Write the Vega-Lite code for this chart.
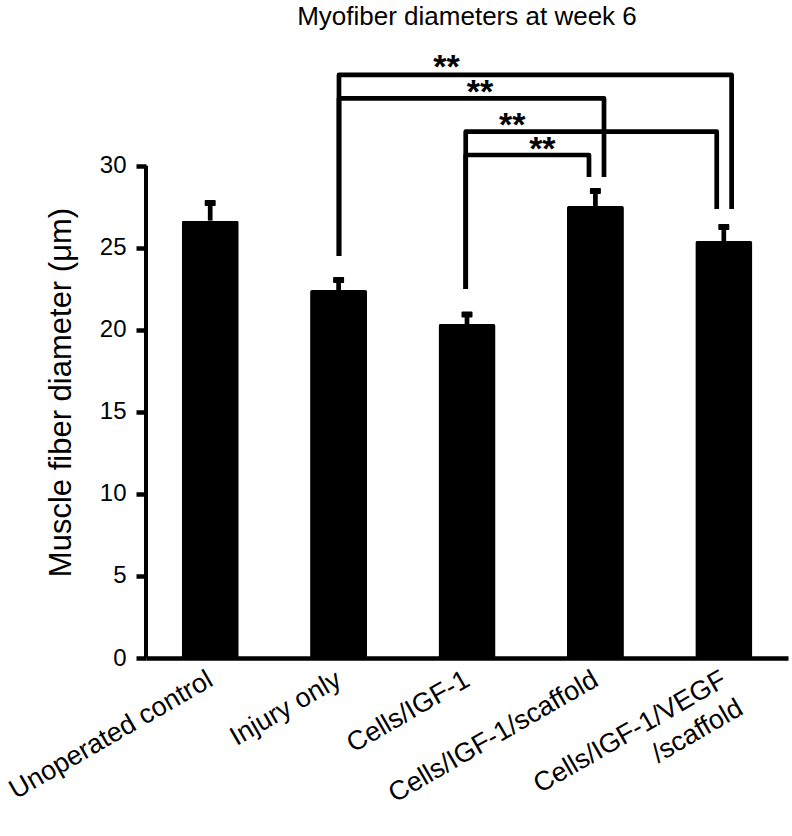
{
  "$schema": "https://vega.github.io/schema/vega-lite/v6.json",
  "width": 642,
  "height": 607,
  "autosize": {"type": "none"},
  "padding": {"left": 146, "top": 51, "right": 4, "bottom": 178},
  "background": "white",
  "config": {
    "view": {"stroke": null},
    "font": "Liberation Sans",
    "axisY": {
      "domain": false,
      "grid": false,
      "tickSize": 10,
      "tickWidth": 4.5,
      "tickColor": "black",
      "labelFontSize": 24,
      "labelFont": "Liberation Sans",
      "labelColor": "black",
      "labelPadding": 10,
      "titleFont": "Liberation Sans",
      "titleFontSize": 31,
      "titleFontWeight": "normal",
      "titleColor": "black"
    }
  },
  "title": {
    "text": "Myofiber diameters at week 6",
    "fontSize": 26,
    "fontWeight": "normal",
    "font": "Liberation Sans",
    "color": "black",
    "anchor": "middle",
    "frame": "group",
    "baseline": "alphabetic",
    "offset": 0
  },
  "datasets": {
    "bars": [
      {"group": "Unoperated control", "mean": 26.66, "upper": 27.74},
      {"group": "Injury only", "mean": 22.43, "upper": 23.04},
      {"group": "Cells/IGF-1", "mean": 20.36, "upper": 20.94},
      {"group": "Cells/IGF-1/scaffold", "mean": 27.55, "upper": 28.47},
      {"group": "Cells/IGF-1/VEGF/scaffold", "mean": 25.42, "upper": 26.27}
    ],
    "brackets": [
      {"bracket": 1, "ord": 1, "bx": 1.503, "by": 24.51},
      {"bracket": 1, "ord": 2, "bx": 1.503, "by": 35.54},
      {"bracket": 1, "ord": 3, "bx": 4.561, "by": 35.54},
      {"bracket": 1, "ord": 4, "bx": 4.561, "by": 27.37},
      {"bracket": 2, "ord": 1, "bx": 1.503, "by": 24.51},
      {"bracket": 2, "ord": 2, "bx": 1.503, "by": 34.11},
      {"bracket": 2, "ord": 3, "bx": 3.567, "by": 34.11},
      {"bracket": 2, "ord": 4, "bx": 3.567, "by": 29.32},
      {"bracket": 3, "ord": 1, "bx": 2.49, "by": 22.5},
      {"bracket": 3, "ord": 2, "bx": 2.49, "by": 32.08},
      {"bracket": 3, "ord": 3, "bx": 4.445, "by": 32.08},
      {"bracket": 3, "ord": 4, "bx": 4.445, "by": 27.37},
      {"bracket": 4, "ord": 1, "bx": 2.49, "by": 22.5},
      {"bracket": 4, "ord": 2, "bx": 2.49, "by": 30.66},
      {"bracket": 4, "ord": 3, "bx": 3.45, "by": 30.66},
      {"bracket": 4, "ord": 4, "bx": 3.45, "by": 29.32}
    ],
    "stars": [
      {"label": "**", "sx": 2.341, "sy": 35.36},
      {"label": "**", "sx": 2.601, "sy": 33.84},
      {"label": "**", "sx": 2.853, "sy": 31.84},
      {"label": "**", "sx": 3.087, "sy": 30.38}
    ]
  },
  "layer": [
    {
      "data": {"name": "bars"},
      "encoding": {
        "x": {
          "field": "group",
          "type": "nominal",
          "sort": null,
          "scale": {"paddingInner": 0.556, "paddingOuter": 0.278},
          "axis": {
            "orient": "bottom",
            "title": null,
            "ticks": false,
            "tickSize": 0,
            "domainColor": "black",
            "domainWidth": 4.7,
            "labelFontSize": 27,
            "labelFont": "Liberation Sans",
            "labelColor": "black",
            "labelAngle": -30,
            "labelAlign": "right",
            "labelBaseline": "top",
            "labelPadding": 8,
            "labelOffset": -6,
            "labelLimit": 0,
            "labelOverlap": false,
            "labelLineHeight": 33,
            "labelExpr": "datum.label == 'Cells/IGF-1/VEGF/scaffold' ? ['Cells/IGF-1/VEGF', '/scaffold'] : datum.label"
          }
        }
      },
      "layer": [
        {
          "mark": {"type": "bar", "color": "black", "cornerRadius": 2},
          "encoding": {
            "y": {
              "field": "mean",
              "type": "quantitative",
              "scale": {"domain": [0, 37], "nice": false},
              "axis": {
                "orient": "left",
                "values": [0, 5, 10, 15, 20, 25, 30],
                "tickSize": 10,
                "tickWidth": 4.5,
                "tickColor": "black",
                "labelFontSize": 24,
                "labelPadding": 10,
                "title": "Muscle fiber diameter (μm)",
                "titleAngle": -90,
                "titleBaseline": "alphabetic",
                "titleAlign": "center",
                "titleX": -76,
                "titleY": 341
              }
            }
          }
        },
        {
          "mark": {"type": "rule", "color": "black", "strokeWidth": 4.7},
          "encoding": {
            "y": {"field": "mean", "type": "quantitative"},
            "y2": {"field": "upper"}
          }
        },
        {
          "mark": {"type": "tick", "color": "black", "opacity": 1, "size": 11, "thickness": 6, "cornerRadius": 1},
          "encoding": {
            "y": {"field": "upper", "type": "quantitative"}
          }
        }
      ]
    },
    {
      "layer": [
        {
          "data": {"name": "brackets"},
          "mark": {"type": "line", "color": "black", "strokeWidth": 4.7, "strokeJoin": "round", "strokeCap": "butt"},
          "encoding": {
            "x": {"field": "bx", "type": "quantitative", "scale": {"domain": [0, 5], "nice": false, "zero": false}, "axis": null},
            "y": {"field": "by", "type": "quantitative"},
            "detail": {"field": "bracket"},
            "order": {"field": "ord"}
          }
        },
        {
          "data": {"name": "stars"},
          "mark": {"type": "text", "fontSize": 34, "fontWeight": "bold", "font": "Liberation Sans", "color": "black", "baseline": "alphabetic", "align": "center"},
          "encoding": {
            "x": {"field": "sx", "type": "quantitative", "axis": null},
            "y": {"field": "sy", "type": "quantitative"},
            "text": {"field": "label"}
          }
        },
        {
          "data": {"values": [{"x0": 0, "ylo": 0, "yhi": 30}]},
          "mark": {"type": "rule", "color": "black", "strokeWidth": 4},
          "encoding": {
            "x": {"field": "x0", "type": "quantitative", "axis": null},
            "y": {"field": "ylo", "type": "quantitative"},
            "y2": {"field": "yhi"}
          }
        }
      ]
    }
  ],
  "resolve": {"scale": {"x": "independent"}}
}
